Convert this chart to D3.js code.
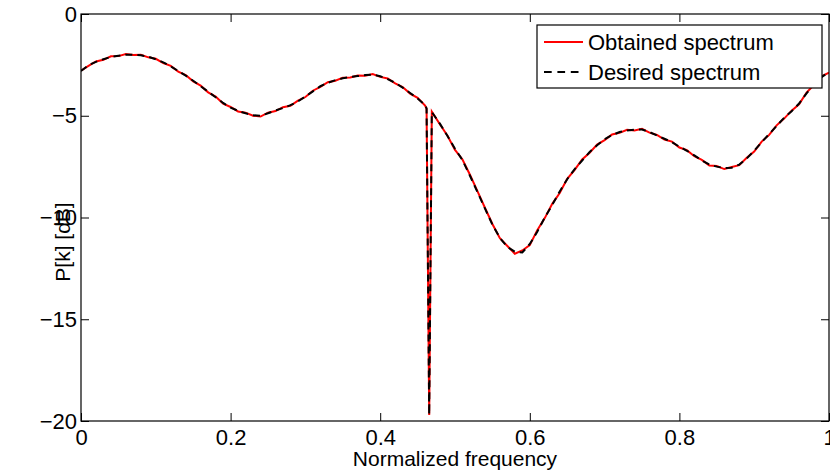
<!DOCTYPE html>
<html>
<head>
<meta charset="utf-8">
<script src="https://cdn.jsdelivr.net/npm/d3@7"></script>
<style>
  body { margin: 0; background: #fff; }
  svg { display: block; font-family: "Liberation Sans", Arial, sans-serif; }
  .tick text { font-size: 22px; fill: #000; }
</style>
</head>
<body>
<div id="chart"></div>
<script>
// normalized frequency grid
var freq = [0.00,0.01,0.02,0.03,0.04,0.05,0.06,0.07,0.08,0.09,
  0.10,0.11,0.12,0.13,0.14,0.15,0.16,0.17,0.18,0.19,
  0.20,0.21,0.22,0.23,0.24,0.25,0.26,0.27,0.28,0.29,
  0.30,0.31,0.32,0.33,0.34,0.35,0.36,0.37,0.38,0.39,
  0.40,0.41,0.42,0.43,0.44,0.45,0.46,0.462,0.4655,0.469,
  0.48,0.49,0.50,0.51,0.52,0.53,0.54,0.55,0.56,0.57,
  0.58,0.59,0.60,0.61,0.62,0.63,0.64,0.65,0.66,0.67,
  0.68,0.69,0.70,0.71,0.72,0.73,0.74,0.75,0.76,0.77,
  0.78,0.79,0.80,0.81,0.82,0.83,0.84,0.85,0.86,0.87,
  0.88,0.89,0.90,0.91,0.92,0.93,0.94,0.95,0.96,0.97,
  0.98,0.99,1.00];

var desired = [-2.80,-2.52,-2.35,-2.22,-2.11,-2.05,-2.00,-2.00,-2.03,-2.10,
  -2.22,-2.38,-2.57,-2.80,-3.03,-3.28,-3.55,-3.82,-4.09,-4.37,
  -4.60,-4.76,-4.88,-4.97,-5.00,-4.88,-4.74,-4.62,-4.48,-4.30,
  -4.05,-3.80,-3.55,-3.38,-3.25,-3.16,-3.10,-3.05,-3.00,-2.98,
  -3.06,-3.20,-3.38,-3.62,-3.88,-4.15,-4.47,-4.64,-19.7,-4.82,
  -5.40,-6.00,-6.62,-7.18,-7.95,-8.75,-9.55,-10.35,-11.00,-11.45,
  -11.68,-11.72,-11.30,-10.70,-10.00,-9.38,-8.72,-8.12,-7.62,-7.20,
  -6.78,-6.45,-6.15,-5.95,-5.80,-5.72,-5.68,-5.68,-5.80,-5.97,
  -6.13,-6.30,-6.52,-6.72,-6.95,-7.20,-7.40,-7.50,-7.57,-7.55,
  -7.40,-7.10,-6.72,-6.30,-5.90,-5.50,-5.10,-4.78,-4.40,-3.90,
  -3.45,-3.10,-2.85];

var obtained = [-2.78,-2.55,-2.33,-2.25,-2.08,-2.07,-1.97,-2.02,-2.00,-2.13,
  -2.20,-2.41,-2.55,-2.83,-3.00,-3.31,-3.52,-3.85,-4.06,-4.40,
  -4.57,-4.79,-4.85,-5.00,-5.04,-4.85,-4.77,-4.58,-4.51,-4.26,
  -4.08,-3.77,-3.58,-3.35,-3.28,-3.13,-3.12,-3.02,-3.03,-2.95,
  -3.09,-3.17,-3.41,-3.59,-3.91,-4.12,-4.50,-4.66,-19.7,-4.80,
  -5.43,-5.98,-6.68,-7.15,-7.90,-8.70,-9.52,-10.32,-11.02,-11.40,
  -11.78,-11.62,-11.36,-10.62,-10.03,-9.33,-8.80,-8.10,-7.66,-7.15,
  -6.82,-6.42,-6.20,-5.92,-5.84,-5.69,-5.72,-5.64,-5.83,-5.94,
  -6.17,-6.27,-6.56,-6.69,-6.99,-7.17,-7.44,-7.47,-7.62,-7.52,
  -7.43,-7.06,-6.76,-6.27,-5.94,-5.47,-5.14,-4.75,-4.44,-3.86,
  -3.48,-3.06,-2.88];

var xTicks = [0, 0.2, 0.4, 0.6, 0.8, 1];
var yTicks = [0, -5, -10, -15, -20];
var seriesNames = ["Obtained spectrum", "Desired spectrum"];

var margin = {top:14, bottom:55, left:81, right:1};
var W = 830, H = 476;
var width = W - margin.left - margin.right;
var height = H - margin.top - margin.bottom;

var svg = d3.select("#chart")
    .append("svg")
    .attr("width", W)
    .attr("height", H);

var g = svg.append("g")
    .attr("transform", "translate(" + margin.left + "," + margin.top + ")");

var x = d3.scaleLinear().domain([0, 1]).range([0, width]);
var y = d3.scaleLinear().domain([-20, 0]).range([height, 0]);

function fmt(d) { return d < 0 ? "\u2212" + Math.abs(d) : String(d); }

svg.append("defs").append("clipPath").attr("id", "clip")
  .append("rect").attr("width", width).attr("height", height);

// lines
var line = d3.line()
    .x(function(d){ return x(d[0]); })
    .y(function(d){ return y(d[1]); });

var plot = g.append("g").attr("clip-path", "url(#clip)");

plot.append("path")
    .datum(freq.map(function(f, i){ return [f, obtained[i]]; }))
    .attr("d", line)
    .attr("fill", "none")
    .attr("stroke", "#ff0000")
    .attr("stroke-width", 2);

plot.append("path")
    .datum(freq.map(function(f, i){ return [f, desired[i]]; }))
    .attr("d", line)
    .attr("fill", "none")
    .attr("stroke", "#000")
    .attr("stroke-width", 2)
    .attr("stroke-dasharray", "7,5");

// axes (inward ticks on all four sides)
var ax = g.append("g")
    .attr("transform", "translate(0," + height + ")")
    .call(d3.axisBottom(x).tickValues(xTicks).tickSize(-8).tickPadding(8).tickFormat(fmt));
var ay = g.append("g")
    .call(d3.axisLeft(y).tickValues(yTicks).tickSize(-8).tickPadding(4).tickFormat(fmt));
var at = g.append("g")
    .call(d3.axisTop(x).tickValues(xTicks).tickSize(-8).tickFormat(""));
var ar = g.append("g")
    .attr("transform", "translate(" + width + ",0)")
    .call(d3.axisRight(y).tickValues(yTicks).tickSize(-8).tickFormat(""));

[ax, ay, at, ar].forEach(function(a){
  a.select(".domain").remove();
  a.selectAll("line").attr("stroke", "#000");
});
ax.selectAll("text").attr("dy", "0.71em");

g.append("rect")
    .attr("width", width)
    .attr("height", height)
    .attr("fill", "none")
    .attr("stroke", "#000")
    .attr("stroke-width", 1.2);

// axis titles
svg.append("text")
    .attr("x", margin.left + width / 2)
    .attr("y", 466)
    .attr("text-anchor", "middle")
    .style("font-size", "21px")
    .text("Normalized frequency");

svg.append("text")
    .attr("transform", "translate(70,242) rotate(-90)")
    .attr("text-anchor", "middle")
    .style("font-size", "21px")
    .text("P[k] [dB]");

// legend
var leg = svg.append("g").attr("transform", "translate(537,25)");
leg.append("rect")
    .attr("width", 285)
    .attr("height", 63)
    .attr("fill", "#fff")
    .attr("stroke", "#000")
    .attr("stroke-width", 1.2);
leg.append("line")
    .attr("x1", 7).attr("x2", 46).attr("y1", 17).attr("y2", 17)
    .attr("stroke", "#ff0000").attr("stroke-width", 2);
leg.append("line")
    .attr("x1", 7).attr("x2", 46).attr("y1", 47).attr("y2", 47)
    .attr("stroke", "#000").attr("stroke-width", 2).attr("stroke-dasharray", "7.7,5.7");
leg.selectAll("text.lab")
    .data(seriesNames)
    .enter()
    .append("text")
    .attr("class", "lab")
    .attr("x", 51)
    .attr("y", function(d, i){ return 25 + i * 30; })
    .style("font-size", "22px")
    .text(function(d){ return d; });
</script>
</body>
</html>
